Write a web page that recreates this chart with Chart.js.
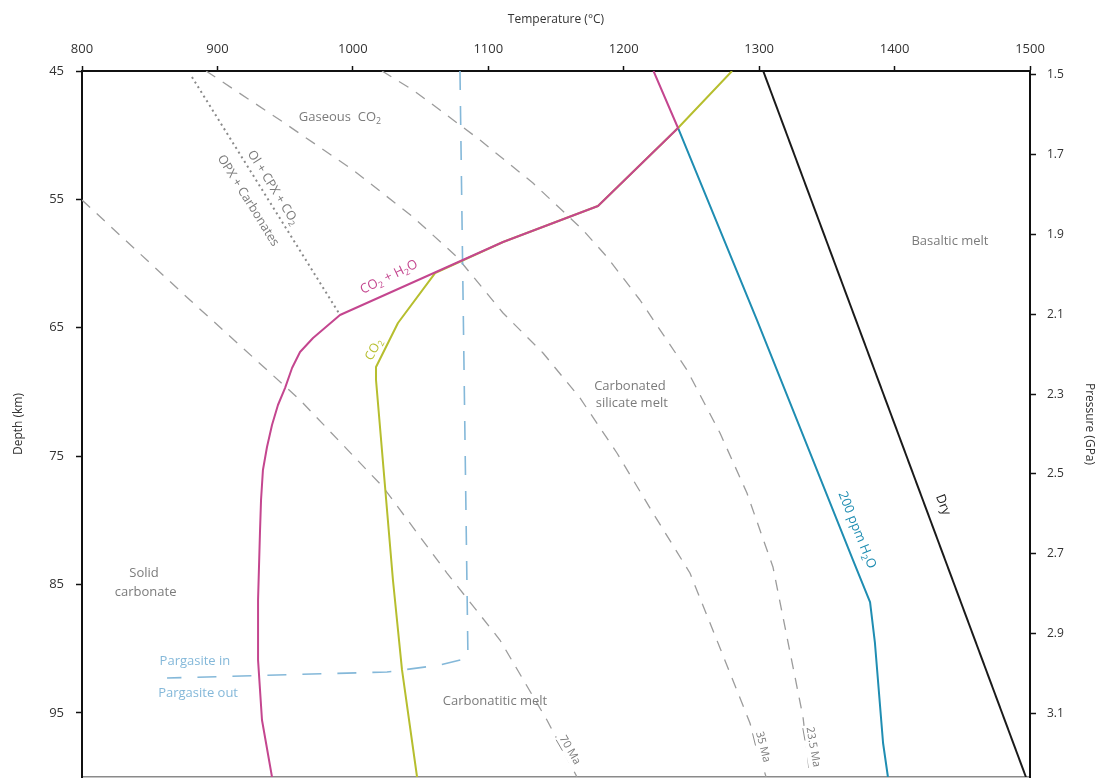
<!DOCTYPE html>
<html>
<head>
<meta charset="utf-8">
<script src="https://cdn.jsdelivr.net/npm/chart.js@4/dist/chart.umd.min.js"></script>
<style>
  html, body { margin: 0; padding: 0; background: #fff; overflow: hidden; }
  #wrap { width: 1099px; height: 778px; position: relative; }
</style>
</head>
<body>
<div id="wrap"><canvas id="c"></canvas></div>
<script>
// ---- axis ticks ----
const tempTicks = [800, 900, 1000, 1100, 1200, 1300, 1400, 1500];
const depthTicks = [45, 55, 65, 75, 85, 95];
const pressureTicks = [1.5, 1.7, 1.9, 2.1, 2.3, 2.5, 2.7, 2.9, 3.1];

// ---- curves (Temperature °C, Depth km) ----
const dryT = [1303, 1497];
const dryD = [45, 100];

const co2h2oT = [1222, 1240.1, 1181.0, 1110.9, 990.5, 970.6, 961.0, 955.1, 949.9, 944.7, 940.3, 936.6, 933.6, 932.2, 931.4, 930.0, 930.0, 932.9, 940.3];
const co2h2oD = [45, 49.44, 55.52, 58.32, 64.01, 65.80, 66.89, 68.14, 69.70, 71.02, 72.58, 74.29, 76.08, 78.42, 80.99, 86.21, 90.89, 95.56, 100];

const co2T = [1280.0, 1240.1, 1181.0, 1110.9, 1060.7, 1033.3, 1017.1, 1017.1, 1029.6, 1036.3, 1047.4];
const co2D = [45, 49.44, 55.52, 58.32, 60.74, 64.63, 68.06, 69.07, 84.65, 91.66, 100];

const h2o200T = [1240.1, 1298.4, 1369.3, 1381.9, 1385.5, 1391.5, 1395.1];
const h2o200D = [49.44, 64.40, 83.10, 86.37, 89.56, 97.35, 100];

const pargasiteT = [1079.1, 1085.0, 1064.3, 1025.2, 862.8];
const pargasiteD = [45, 90.73, 91.28, 91.82, 92.29];

const olCpxT = [881.2, 990.5];
const olCpxD = [45.47, 64.0];

const ma70T = [800, 879.7, 961.0, 1022.3, 1069.5, 1108.6, 1143.3, 1165.5];
const ma70D = [55.05, 62.84, 70.63, 77.41, 84.11, 89.33, 95.56, 100];

const ma35T = [891.6, 946.2, 1000.1, 1044.4, 1076.9, 1110.9, 1140.4, 1167.7, 1195.0, 1221.6, 1248.9, 1271.1, 1293.2, 1305.1];
const ma35D = [45, 48.82, 52.71, 56.37, 59.49, 63.85, 66.97, 70.47, 74.76, 79.43, 84.11, 89.95, 95.79, 100];

const ma235T = [1021.5, 1044.4, 1064.3, 1093.9, 1133.0, 1169.9, 1187.7, 1212.0, 1246.7, 1271.1, 1291.0, 1310.2, 1332.4, 1337.5];
const ma235D = [45, 46.48, 48.04, 50.38, 53.73, 57.39, 59.49, 62.84, 68.29, 73.20, 77.88, 83.64, 95.33, 100];

const FONT = '"Open Sans", "Noto Sans", sans-serif';
const zip = (xs, ys) => xs.map((x, i) => ({ x: x, y: ys[i] }));

function lineDS(label, T, D, color, width, dash) {
  return {
    label: label, data: zip(T, D), showLine: true, borderColor: color,
    borderWidth: width, borderDash: dash || [], pointRadius: 0, fill: false,
    tension: 0, borderCapStyle: 'butt', borderJoinStyle: 'round'
  };
}

const datasets = [
  lineDS('CO2 + H2O', co2h2oT, co2h2oD, '#c4468f', 2),
  lineDS('CO2', co2T, co2D, '#b6be2e', 2),
  lineDS('200 ppm H2O', h2o200T, h2o200D, '#1f8db2', 2),
  lineDS('Dry', dryT, dryD, '#1a1a1a', 2),
  lineDS('Pargasite', pargasiteT, pargasiteD, '#84b8d9', 1.6, [19, 16]),
  lineDS('Ol+CPX+CO2', olCpxT, olCpxD, '#8a8a8a', 2, [2, 3.5]),
  lineDS('70 Ma', ma70T, ma70D, '#9c9c9c', 1.3, [11, 9]),
  lineDS('35 Ma', ma35T, ma35D, '#9c9c9c', 1.3, [11, 9]),
  lineDS('23.5 Ma', ma235T, ma235D, '#9c9c9c', 1.3, [11, 9])
];

// ---- annotation text (rich text with subscripts) ----
const GRAY = '#7b7b7b';
const annotations = [
  { t: 990.5, d: 48.6, segs: [['Gaseous  CO'], ['2', 'sub']], color: GRAY, size: 13, angle: 0 },
  { t: 941, d: 54.1, segs: [['Ol + CPX + CO'], ['2', 'sub']], color: GRAY, size: 12.5, angle: 58 },
  { t: 922.6, d: 55.1, segs: [['OPX + Carbonates']], color: GRAY, size: 12.5, angle: 58 },
  { t: 1026.7, d: 61.05, segs: [['CO'], ['2', 'sub'], [' + H'], ['2', 'sub'], ['O']], color: '#c4468f', size: 13, angle: -26 },
  { t: 1015.6, d: 66.7, segs: [['CO'], ['2', 'sub']], color: '#b6be2e', size: 12.5, angle: -62 },
  { t: 1204.6, d: 69.6, segs: [['Carbonated']], color: GRAY, size: 13, angle: 0 },
  { t: 1206, d: 70.9, segs: [['silicate melt']], color: GRAY, size: 13, angle: 0 },
  { t: 1440.9, d: 58.24, segs: [['Basaltic melt']], color: GRAY, size: 13, angle: 0 },
  { t: 1435.7, d: 78.8, segs: [['Dry']], color: '#1a1a1a', size: 13, angle: 69 },
  { t: 1372.2, d: 80.76, segs: [['200 ppm H'], ['2', 'sub'], ['O']], color: '#1f8db2', size: 13, angle: 68 },
  { t: 845.8, d: 84.1, segs: [['Solid']], color: GRAY, size: 13, angle: 0 },
  { t: 847, d: 85.6, segs: [['carbonate']], color: GRAY, size: 13, angle: 0 },
  { t: 883.4, d: 91.0, segs: [['Pargasite in']], color: '#84b8d9', size: 13, angle: 0 },
  { t: 885.7, d: 93.46, segs: [['Pargasite out']], color: '#84b8d9', size: 13, angle: 0 },
  { t: 1105, d: 94.08, segs: [['Carbonatitic melt']], color: GRAY, size: 13, angle: 0 },
  { t: 1160.3, d: 97.9, segs: [['70', 'u'], [' Ma']], color: GRAY, size: 11, angle: 60, bg: true },
  { t: 1302.8, d: 97.66, segs: [['35', 'u'], [' Ma']], color: GRAY, size: 11, angle: 76, bg: true },
  { t: 1339.8, d: 97.66, segs: [['23', 'u'], ['.5 Ma']], color: GRAY, size: 11, angle: 80, bg: true }
];

function drawRich(ctx, x, y, a) {
  const size = a.size;
  const subSize = size * 0.68;
  ctx.save();
  ctx.translate(x, y);
  ctx.rotate(a.angle * Math.PI / 180);
  ctx.textBaseline = 'middle';
  ctx.textAlign = 'left';
  const widths = a.segs.map(s => {
    ctx.font = (s[1] === 'sub' ? subSize : size) + 'px ' + FONT;
    return ctx.measureText(s[0]).width;
  });
  const total = widths.reduce((p, c) => p + c, 0);
  let cx = -total / 2;
  if (a.bg) {
    ctx.fillStyle = '#fff';
    ctx.fillRect(cx - 2, -size * 0.6, total + 4, size * 1.3);
  }
  ctx.fillStyle = a.color;
  ctx.strokeStyle = a.color;
  a.segs.forEach((s, i) => {
    const isSub = s[1] === 'sub';
    ctx.font = (isSub ? subSize : size) + 'px ' + FONT;
    ctx.fillText(s[0], cx, isSub ? size * 0.3 : 0);
    if (s[1] === 'u') {
      ctx.lineWidth = 0.8;
      ctx.beginPath();
      ctx.moveTo(cx, size * 0.62);
      ctx.lineTo(cx + widths[i], size * 0.62);
      ctx.stroke();
    }
    cx += widths[i];
  });
  ctx.restore();
}

const annotationPlugin = {
  id: 'annot',
  afterDatasetsDraw(chart) {
    const ctx = chart.ctx;
    const xs = chart.scales.x, ys = chart.scales.y;
    annotations.forEach(a => {
      drawRich(ctx, xs.getPixelForValue(a.t), ys.getPixelForValue(a.d), a);
    });
  }
};

const tickGrid = { drawOnChartArea: false, drawTicks: true, tickLength: 6, tickColor: '#111', tickWidth: 1.5 };
const tickFont = { family: FONT, size: 13 };
const noPadV = (s, w) => { s.width = w; s.paddingTop = 0; s.paddingBottom = 0; };

new Chart(document.getElementById('c'), {
  type: 'scatter',
  data: { datasets: datasets },
  options: {
    responsive: true,
    maintainAspectRatio: false,
    animation: false,
    layout: { padding: 0 },
    plugins: { legend: { display: false }, tooltip: { enabled: false } },
    scales: {
      x: {
        type: 'linear', position: 'top', min: 800, max: 1500,
        afterBuildTicks: s => { s.ticks = tempTicks.map(v => ({ value: v })); },
        ticks: { font: tickFont, color: '#333', padding: 9, maxRotation: 0, autoSkip: false, callback: v => String(v) },
        grid: Object.assign({}, tickGrid, { tickLength: 5 }),
        border: { color: '#111', width: 2 },
        title: { display: true, text: 'Temperature (°C)', color: '#333', font: { family: FONT, size: 12 }, padding: { top: 12, bottom: 0 } },
        afterFit: s => { s.height = 71; s.paddingLeft = 0; s.paddingRight = 0; }
      },
      xb: {
        type: 'linear', position: 'bottom', min: 800, max: 1500,
        ticks: { display: false },
        grid: { drawOnChartArea: false, drawTicks: false },
        border: { color: '#8a8a8a', width: 1.5 },
        afterFit: s => { s.height = 1; s.paddingLeft = 0; s.paddingRight = 0; }
      },
      y: {
        type: 'linear', position: 'left', reverse: true, min: 45, max: 100,
        afterBuildTicks: s => { s.ticks = depthTicks.map(v => ({ value: v })); },
        ticks: { font: tickFont, color: '#333', padding: 12, autoSkip: false, callback: v => String(v) },
        grid: tickGrid,
        border: { color: '#111', width: 2 },
        title: { display: true, text: 'Depth (km)', color: '#333', font: { family: FONT, size: 12 }, padding: { top: 11, bottom: 0 } },
        afterFit: s => noPadV(s, 82)
      },
      y2: {
        type: 'linear', position: 'right', reverse: true, min: 1.49, max: 3.26,
        afterBuildTicks: s => { s.ticks = pressureTicks.map(v => ({ value: v })); },
        ticks: { font: { family: FONT, size: 12 }, color: '#333', padding: 11, autoSkip: false, callback: v => Number(v).toFixed(1) },
        grid: tickGrid,
        border: { color: '#111', width: 2 },
        title: { display: true, text: 'Pressure (GPa)', color: '#333', font: { family: FONT, size: 12 }, padding: { top: 2, bottom: 0 } },
        afterFit: s => noPadV(s, 69)
      }
    }
  },
  plugins: [annotationPlugin]
});
</script>
</body>
</html>
